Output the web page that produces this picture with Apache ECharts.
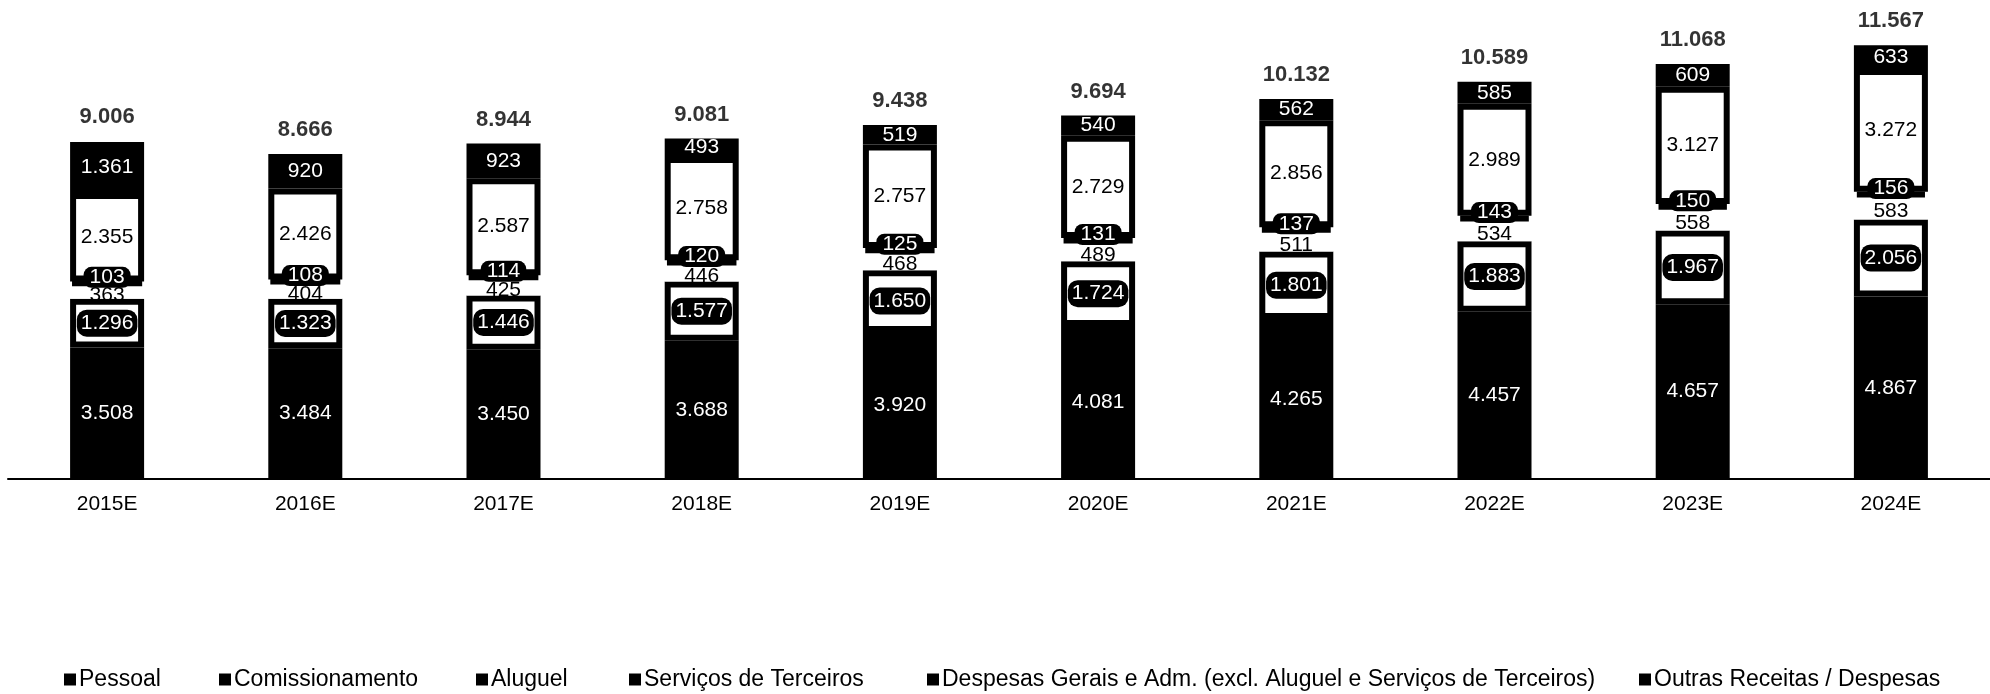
<!DOCTYPE html>
<html>
<head>
<meta charset="utf-8">
<script src="https://cdn.jsdelivr.net/npm/echarts@6/dist/echarts.min.js"></script>
<style>
html,body{margin:0;padding:0;background:#fff;}
#chart{width:1990px;height:694px;}
</style>
</head>
<body>
<div id="chart"></div>
<script>
const categories = ['2015E','2016E','2017E','2018E','2019E','2020E','2021E','2022E','2023E','2024E'];
const pessoal = [3508,3484,3450,3688,3920,4081,4265,4457,4657,4867];
const comissionamento = [1296,1323,1446,1577,1650,1724,1801,1883,1967,2056];
const aluguel = [363,404,425,446,468,489,511,534,558,583];
const servicos = [103,108,114,120,125,131,137,143,150,156];
const despesas = [2355,2426,2587,2758,2757,2729,2856,2989,3127,3272];
const outras = [1361,920,923,493,519,540,562,585,609,633];
const totais = [9006,8666,8944,9081,9438,9694,10132,10589,11068,11567];

const seriesNames = ['Pessoal','Comissionamento','Aluguel','Serviços de Terceiros','Despesas Gerais e Adm. (excl. Aluguel e Serviços de Terceiros)','Outras Receitas / Despesas'];
const legendLeft = [64, 219, 476, 629, 927, 1639];

function fmt(v){ return String(v).replace(/\B(?=(\d{3})+(?!\d))/g,'.'); }
const FONT = 'Liberation Sans, Arial, sans-serif';

function barSeries(name, data, fill, border, label){
  return {
    name: name, type:'bar', stack:'a', barWidth:74, data:data,
    itemStyle:{color:fill, borderColor:'#000', borderWidth:border},
    emphasis:{disabled:true},
    label: Object.assign({show:true, position:'inside', fontFamily:FONT, fontSize:21,
      formatter: p => fmt(p.value)}, label)
  };
}

const chart = echarts.init(document.getElementById('chart'), null, {renderer:'canvas'});
const option = {
  animation:false,
  backgroundColor:'#fff',
  grid:{left:8, right:-13, top:29, bottom:215, containLabel:false},
  xAxis:{type:'category', data:categories,
    axisLine:{lineStyle:{color:'#000', width:2}},
    axisTick:{show:false},
    axisLabel:{color:'#000', fontFamily:FONT, fontSize:21, margin:15}},
  yAxis:{type:'value', min:0, max:12000, show:false, splitLine:{show:false}},
  legend: seriesNames.map((n,i)=>({
    data:[n], left:legendLeft[i], top:668, padding:0, selectedMode:false,
    icon:'rect', itemWidth:12, itemHeight:12, itemGap:6,
    itemStyle:{color:'#000', borderWidth:0},
    textStyle:{color:'#000', fontFamily:FONT, fontSize:23, padding:[0,0,0,-2]}
  })),
  series:[
    barSeries(seriesNames[0], pessoal, '#000', 6, {color:'#fff'}),
    barSeries(seriesNames[1], comissionamento, '#fff', 6, {color:'#fff', backgroundColor:'#000', borderRadius:10, padding:[3,4]}),
    barSeries(seriesNames[2], aluguel, '#fff', 0, {color:'#000', offset:[0,3]}),
    barSeries(seriesNames[3], servicos, '#000', 6, {color:'#fff', offset:[0,-6], backgroundColor:'#000', borderRadius:8, padding:[0,6]}),
    barSeries(seriesNames[4], despesas, '#fff', 6, {color:'#000'}),
    barSeries(seriesNames[5], outras, '#000', 6, {color:'#fff'}),
    {name:'Total', type:'scatter', data:totais, symbolSize:0, silent:true,
      label:{show:true, position:'top', distance:13, color:'#000', fontFamily:FONT, fontSize:22, fontWeight:'bold',
        formatter: p => fmt(p.value)}}
  ]
};
chart.setOption(option);
</script>
</body>
</html>
